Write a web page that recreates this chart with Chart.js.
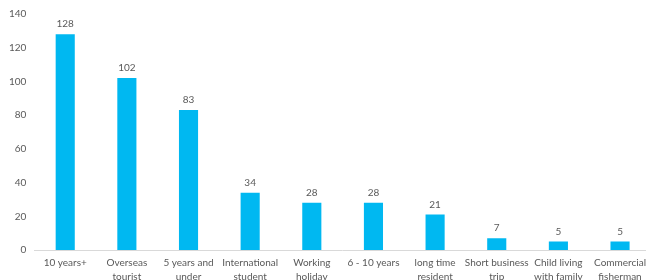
<!DOCTYPE html>
<html>
<head>
  <meta charset="utf-8">
  <title>Bar chart</title>
  <script src="https://cdn.jsdelivr.net/npm/chart.js"></script>
  <style>
    html, body {
      margin: 0;
      padding: 0;
      background: white;
      overflow: hidden;
      width: 646px;
      height: 280px;
    }
    #wrap {
      position: absolute;
      left: 0;
      top: 0;
      width: 652px;
      height: 290px;
    }
  </style>
</head>
<body>

<div id="wrap">
  <canvas id="barChart" width="652" height="290"></canvas>
</div>

<script>
  const categories = [
    ["10 years+"],
    ["Overseas", "tourist"],
    ["5 years and", "under"],
    ["International", "student"],
    ["Working", "holiday"],
    ["6 - 10 years"],
    ["long time", "resident"],
    ["Short business", "trip"],
    ["Child living", "with family"],
    ["Commercial", "fisherman"]
  ];
  const counts = [128, 102, 83, 34, 28, 28, 21, 7, 5, 5];
  const yTicks = [0, 20, 40, 60, 80, 100, 120, 140];

  const textColor = '#595959';
  const fontFamily = 'Lato, "Open Sans", sans-serif';

  // draws the number above each bar
  const valueLabels = {
    id: 'valueLabels',
    afterDatasetsDraw(chart) {
      const ctx = chart.ctx;
      const meta = chart.getDatasetMeta(0);
      ctx.save();
      ctx.fillStyle = textColor;
      ctx.font = '10px ' + fontFamily;
      ctx.textAlign = 'center';
      ctx.textBaseline = 'bottom';
      meta.data.forEach((bar, i) => {
        ctx.fillText(counts[i], bar.x, bar.y - 5);
      });
      ctx.restore();
    }
  };

  const ctx = document.getElementById('barChart').getContext('2d');
  new Chart(ctx, {
    type: 'bar',
    data: {
      labels: categories,
      datasets: [{
        data: counts,
        backgroundColor: '#00B8F1',
        categoryPercentage: 1,
        barPercentage: 0.31
      }]
    },
    options: {
      responsive: false,
      animation: false,
      layout: {
        padding: { left: 1, right: 0, top: 11, bottom: 0 }
      },
      plugins: {
        legend: { display: false },
        tooltip: { enabled: false }
      },
      scales: {
        x: {
          grid: { display: false, drawTicks: false, tickLength: 0 },
          border: { display: true, color: '#d9d9d9', width: 1 },
          ticks: {
            color: textColor,
            font: { family: fontFamily, size: 10, lineHeight: 1.4 },
            maxRotation: 0,
            autoSkip: false,
            padding: 6
          }
        },
        y: {
          min: 0,
          max: 140,
          afterBuildTicks(scale) {
            scale.ticks = yTicks.map(v => ({ value: v }));
          },
          grid: { display: false, drawTicks: false, tickLength: 0 },
          border: { display: false },
          ticks: {
            color: textColor,
            font: { family: fontFamily, size: 10 },
            padding: 8
          }
        }
      }
    },
    plugins: [valueLabels]
  });
</script>

</body>
</html>
